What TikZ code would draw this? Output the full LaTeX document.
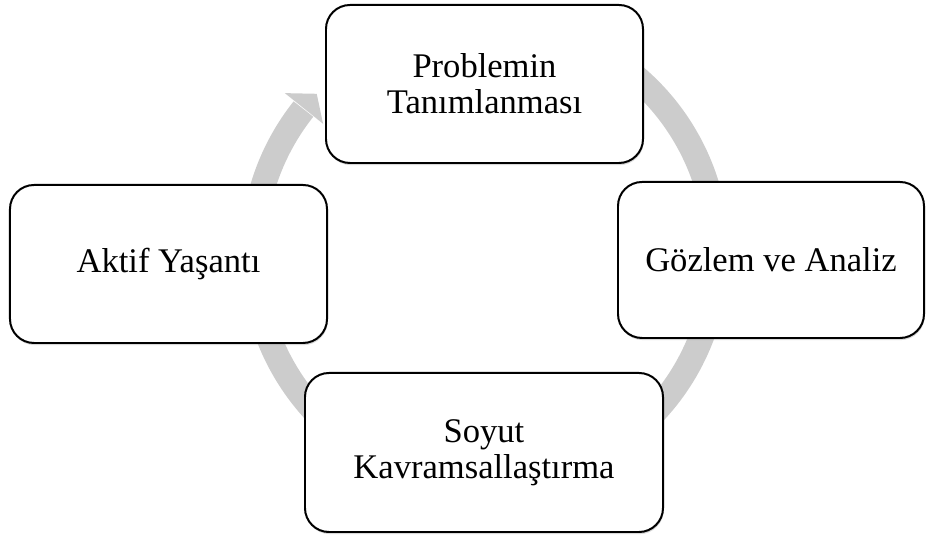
\documentclass[tikz,border=0pt]{standalone}
\usepackage{fontspec}
\setmainfont{Liberation Serif}
\usetikzlibrary{shadows}
\definecolor{ringgray}{RGB}{204,204,204}

\begin{document}
\begin{tikzpicture}[x=0.03cm, y=0.03cm,
  every node/.style={font=\fontsize{29.5}{30.5}\selectfont},
  stage/.style={draw, line width=1.7pt, rounded corners=0.72cm, fill=white,
    align=center, inner sep=0pt, minimum width=9.51cm, minimum height=4.74cm,
    drop shadow={shadow xshift=0.6pt, shadow yshift=-1.8pt, opacity=0.3}}]
  \useasboundingbox (0,0) rectangle (926,535);

  % cycle arrow
  \coordinate (c) at (485,281.5);
  \draw[ringgray, line width=0.75cm] ([shift={(70:232)}]c)
    arc[start angle=70, end angle=-218.5, radius=232];
  \fill[ringgray] ([shift={(141.3:207.5)}]c) -- ([shift={(136.5:232)}]c)
    -- ([shift={(141.3:256.5)}]c) -- cycle;

  % stages
  \node[stage] (prob) at (484.5,451) {Problemin\\Tanımlanması};
  \node[stage, minimum width=9.18cm, minimum height=4.68cm] (gozlem) at (771,275) {Gözlem ve Analiz};
  \node[stage, minimum width=10.74cm, minimum height=4.77cm] (soyut) at (484,82.5) {Soyut\\Kavramsallaştırma};
  \node[stage] (aktif) at (168.5,271) {Aktif Yaşantı};
\end{tikzpicture}
\end{document}
